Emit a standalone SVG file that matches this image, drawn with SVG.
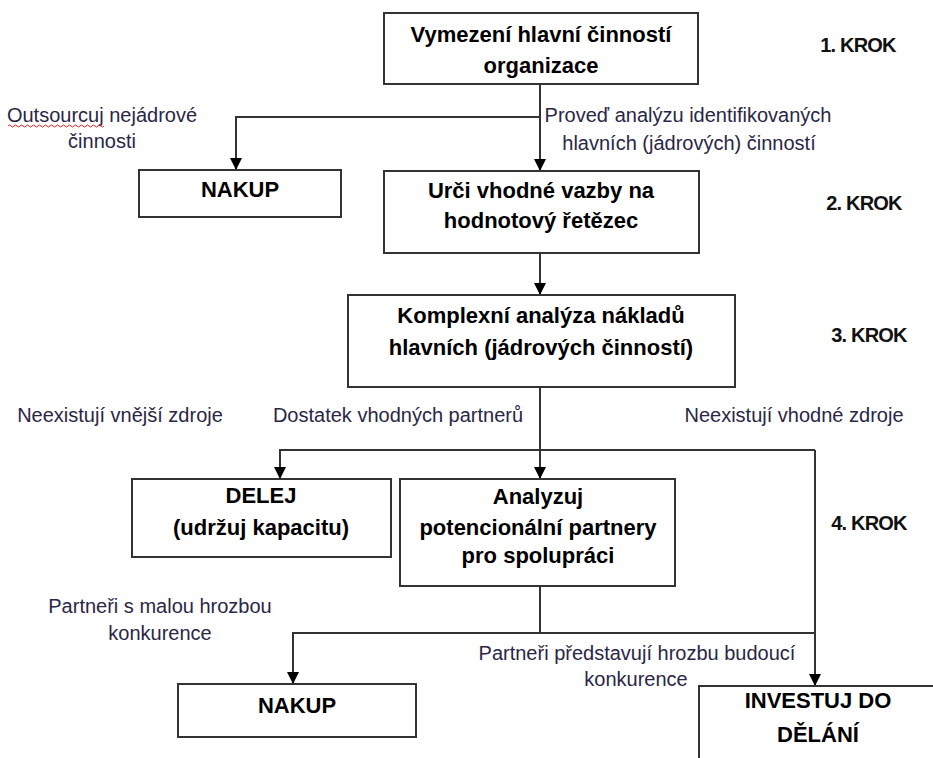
<svg xmlns="http://www.w3.org/2000/svg" width="933" height="758" viewBox="0 0 933 758">
  <style>
    .box { fill: #ffffff; stroke: #333333; stroke-width: 2; }
    .bt { font-family: "Liberation Sans", Arial, sans-serif; font-size: 22px; font-weight: bold; fill: #000000; text-anchor: middle; }
    .lbl { font-family: "Liberation Sans", Arial, sans-serif; font-size: 20px; fill: #2a2646; text-anchor: middle; }
    .step { font-family: "Liberation Sans", Arial, sans-serif; font-size: 20px; font-weight: bold; letter-spacing: -0.8px; fill: #111111; text-anchor: middle; }
    .wire { fill: none; stroke: #333333; stroke-width: 2; }
  </style>
  <defs>
    <marker id="arrow" viewBox="0 0 10 10" refX="10" refY="5" markerWidth="6" markerHeight="6" orient="auto" markerUnits="strokeWidth">
      <path d="M0,0 L10,5 L0,10 Z" fill="#000000"/>
    </marker>
  </defs>
  <rect width="933" height="758" fill="#ffffff"/>

  <!-- connectors -->
  <g id="connectors">
    <path class="wire" d="M540,84 V171" marker-end="url(#arrow)"/>
    <path class="wire" d="M540,117 H236 V170" marker-end="url(#arrow)"/>
    <path class="wire" d="M540,253 V295" marker-end="url(#arrow)"/>
    <path class="wire" d="M540,387 V479" marker-end="url(#arrow)"/>
    <path class="wire" d="M815,450 H280 V479" marker-end="url(#arrow)"/>
    <path class="wire" d="M815,450 V686" marker-end="url(#arrow)"/>
    <path class="wire" d="M540,586 V633"/>
    <path class="wire" d="M815,633 H293 V684" marker-end="url(#arrow)"/>
  </g>

  <!-- edge labels -->
  <g id="labels">
    <text class="lbl" x="102" y="122">Outsourcuj nejádrové</text>
    <text class="lbl" x="102" y="148">činnosti</text>
    <path d="M8,126 q1.5,-2 3,0 t3,0 t3,0 t3,0 t3,0 t3,0 t3,0 t3,0 t3,0 t3,0 t3,0 t3,0 t3,0 t3,0 t3,0 t3,0 t3,0 t3,0 t3,0 t3,0 t3,0 t3,0 t3,0 t3,0 t3,0 t3,0 t3,0 t3,0 t3,0 t3,0 t3,0 t3,0" fill="none" stroke="#e02020" stroke-width="1"/>
    <text class="lbl" x="688" y="122">Proveď analýzu identifikovaných</text>
    <text class="lbl" x="689" y="150">hlavních (jádrových) činností</text>
    <text class="lbl" x="120" y="422">Neexistují vnější zdroje</text>
    <text class="lbl" x="398" y="422">Dostatek vhodných partnerů</text>
    <text class="lbl" x="794" y="422">Neexistují vhodné zdroje</text>
    <text class="lbl" x="160" y="613">Partneři s malou hrozbou</text>
    <text class="lbl" x="160" y="640">konkurence</text>
    <text class="lbl" x="637" y="660">Partneři představují hrozbu budoucí</text>
    <text class="lbl" x="636" y="686">konkurence</text>
  </g>

  <!-- step markers -->
  <g id="steps">
    <text class="step" x="858" y="52">1. KROK</text>
    <text class="step" x="864" y="210">2. KROK</text>
    <text class="step" x="869" y="342">3. KROK</text>
    <text class="step" x="869" y="530">4. KROK</text>
  </g>

  <g id="vymezeni">
    <rect class="box" x="384" y="13" width="314" height="71"/>
    <text class="bt" x="541" y="42">Vymezení hlavní činností</text>
    <text class="bt" x="541" y="73">organizace</text>
  </g>

  <g id="nakup-1">
    <rect class="box" x="139" y="170" width="202" height="47"/>
    <text class="bt" x="240" y="197">NAKUP</text>
  </g>

  <g id="urci-vazby">
    <rect class="box" x="384" y="171" width="315" height="82"/>
    <text class="bt" x="541" y="198">Urči vhodné vazby na</text>
    <text class="bt" x="541" y="228">hodnotový řetězec</text>
  </g>

  <g id="analyza-nakladu">
    <rect class="box" x="348" y="295" width="387" height="92"/>
    <text class="bt" x="541" y="323">Komplexní analýza nákladů</text>
    <text class="bt" x="541" y="355">hlavních (jádrových činností)</text>
  </g>

  <g id="delej">
    <rect class="box" x="132" y="479" width="259" height="78"/>
    <text class="bt" x="261" y="503">DELEJ</text>
    <text class="bt" x="261" y="535">(udržuj kapacitu)</text>
  </g>

  <g id="analyzuj-partnery">
    <rect class="box" x="400" y="479" width="275" height="107"/>
    <text class="bt" x="538" y="504">Analyzuj</text>
    <text class="bt" x="538" y="535">potencionální partnery</text>
    <text class="bt" x="538" y="563">pro spolupráci</text>
  </g>

  <g id="nakup-2">
    <rect class="box" x="178" y="684" width="238" height="53"/>
    <text class="bt" x="297" y="713">NAKUP</text>
  </g>

  <g id="investuj">
    <rect class="box" x="699" y="686" width="245" height="90"/>
    <text class="bt" x="818" y="708">INVESTUJ DO</text>
    <text class="bt" x="818" y="742">DĚLÁNÍ</text>
  </g>
</svg>
